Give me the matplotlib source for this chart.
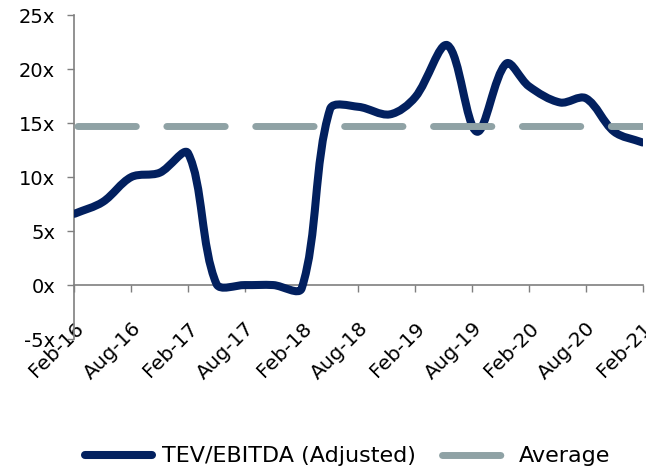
import numpy as np
import matplotlib.pyplot as plt
from matplotlib.path import Path
from matplotlib.patches import PathPatch
from matplotlib.lines import Line2D

plt.rcParams['font.family'] = ['DejaVu Sans']

# quarterly readings, months counted from Feb-16 (positions)
months = [0, 3, 6, 9, 12, 15, 18, 21, 24, 27, 30, 33.3, 36, 39.4, 42.5, 45.6, 48, 51.3, 54, 57, 60]
tev_ebitda = [6.6, 7.7, 10.0, 10.4, 12.2, 0.1, 0.0, 0.0, -0.3, 16.3, 16.5, 15.8,
              17.4, 22.2, 14.2, 20.5, 18.4, 16.9, 17.3, 14.2, 13.2]
average = 14.7

tick_months = [0, 6, 12, 18, 24, 30, 36, 42, 48, 54, 60]
tick_labels = ['Feb-16', 'Aug-16', 'Feb-17', 'Aug-17', 'Feb-18', 'Aug-18',
               'Feb-19', 'Aug-19', 'Feb-20', 'Aug-20', 'Feb-21']
y_ticks = [-5, 0, 5, 10, 15, 20, 25]

navy = '#02205F'
grey = '#8FA2A5'
axis_grey = '#7F7F7F'


def smooth_path(ax, x, y):
    # excel-like smoothed line, built in screen space so the
    # handles get shortened next to short segments
    pts = ax.transData.transform(np.column_stack([x, y]).astype(float))
    n = len(pts)
    verts = [pts[0]]
    codes = [Path.MOVETO]
    for i in range(n - 1):
        p0 = pts[max(i - 1, 0)]
        p1 = pts[i]
        p2 = pts[i + 1]
        p3 = pts[min(i + 2, n - 1)]
        d01 = np.hypot(*(p1 - p0))
        d12 = np.hypot(*(p2 - p1))
        d23 = np.hypot(*(p3 - p2))
        c1 = p1 + (p2 - p0) * d12 / (3 * (d01 + d12))
        c2 = p2 - (p3 - p1) * d12 / (3 * (d12 + d23))
        verts += [c1, c2, p2]
        codes += [Path.CURVE4] * 3
    verts = ax.transData.inverted().transform(np.array(verts))
    return Path(verts, codes)


fig = plt.figure(figsize=(6.46, 4.69), dpi=100)
ax = fig.add_axes([0.1153, 0.277, 0.8793, 0.691])
ax.set_xlim(0, 60)
ax.set_ylim(-5, 25)

line = PathPatch(smooth_path(ax, months, tev_ebitda), facecolor='none', edgecolor=navy,
                 linewidth=5.8, capstyle='round', joinstyle='round', zorder=3)
ax.add_patch(line)

ax.plot([months[0], months[-1]], [average, average], color=grey,
        linewidth=5.0, linestyle=(12.3, (8.4, 4.4)), dash_capstyle='round', zorder=4)

ax.spines['top'].set_visible(False)
ax.spines['right'].set_visible(False)
ax.spines['bottom'].set_position(('data', 0))
for s in ('left', 'bottom'):
    ax.spines[s].set_color(axis_grey)
    ax.spines[s].set_linewidth(1.2)
ax.tick_params(axis='both', direction='out', length=5, width=1.0, color=axis_grey)
ax.tick_params(axis='x', pad=19)
ax.tick_params(axis='y', pad=9)

ax.set_yticks(y_ticks)
ax.set_yticklabels([f'{v}x' for v in y_ticks], fontsize=14)
ax.set_xticks(tick_months)
ax.set_xticklabels(tick_labels, fontsize=14.5, rotation=45, ha='right', va='top',
                   rotation_mode='anchor')

handles = [Line2D([], [], color=navy, linewidth=5.8, solid_capstyle='round'),
           Line2D([], [], color=grey, linewidth=5.0, linestyle=(0, (8.4, 4.4)),
                  dash_capstyle='round')]
fig.legend(handles, ['TEV/EBITDA (Adjusted)', 'Average'], loc='center',
           bbox_to_anchor=(0.538, 0.027), ncol=2, frameon=False, fontsize=16,
           handlelength=3.0, handletextpad=0.45, columnspacing=1.2)

fig.savefig('out.png', dpi=100)
